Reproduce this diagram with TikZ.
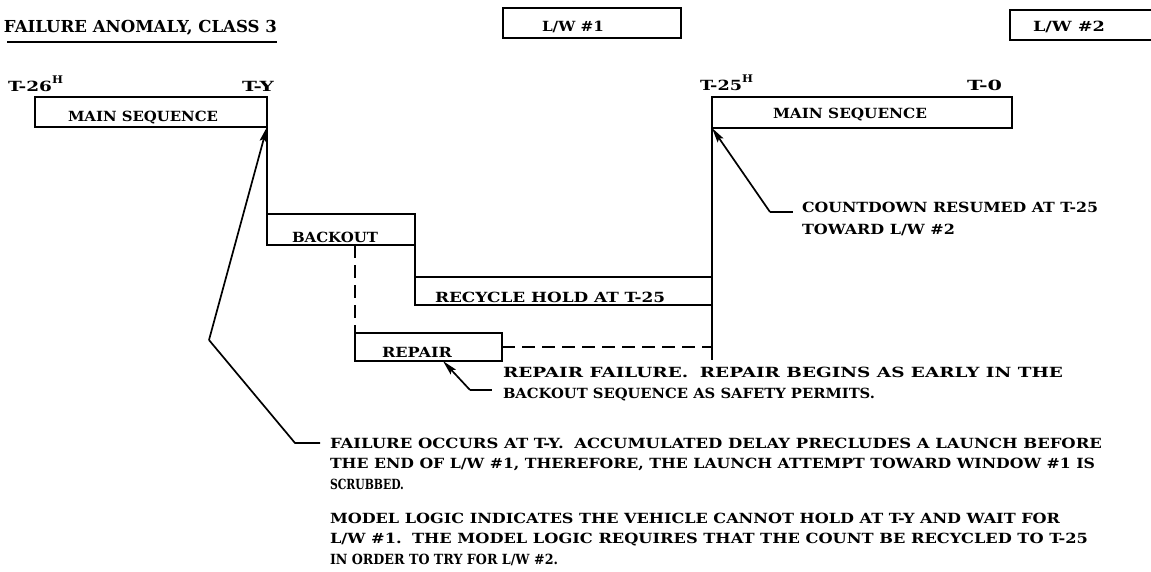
\documentclass[tikz,border=0pt]{standalone}
\usepackage{fontspec}
\usepackage{graphicx}
\setmainfont{DejaVu Serif}[FakeStretch=1.1]
\usetikzlibrary{arrows.meta}
\tikzset{
  box/.style={draw, line width=1.9pt, inner sep=0pt, outer sep=0pt, anchor=north west},
  txt/.style={inner sep=0pt, outer sep=0pt, anchor=base west, font=\fontsize{14}{16}\selectfont\bfseries},
  rule/.style={line width=1.9pt},
  lead/.style={line width=1.7pt},
  ptr/.style={line width=1.7pt, -{Stealth[length=15pt,width=7pt,inset=2.5pt]}},
  dashline/.style={line width=1.7pt, dash pattern=on 13pt off 7pt}
}
\newcommand{\fw}[2]{\resizebox{#1pt}{\height}{#2}}
\newcommand{\hsup}{\raisebox{8.5pt}{\fontsize{10.5}{10}\selectfont H}}
\begin{document}
\begin{tikzpicture}[x=1pt,y=-1pt]
\useasboundingbox (0,0) rectangle (1151,572);
\clip (0,0) rectangle (1151,572);
% title
\node[txt, font=\fontsize{16.5}{18}\selectfont\bfseries] (title) at (4,33) {\fw{273}{FAILURE ANOMALY, CLASS 3}};
\draw[line width=2.6pt] ([xshift=3pt,yshift=-9pt]title.base west) -- ([yshift=-9pt]title.base east);
% launch windows
\node[box, minimum width=178pt, minimum height=30pt] (lw1) at (503,8) {};
\node[txt] (lw1t) at (542,32) {\fw{62}{L/W \#1}};
\node[box, minimum width=170pt, minimum height=30pt] (lw2) at (1010,10) {};
\node[txt] (lw2t) at (1033,32) {\fw{72}{L/W \#2}};
% boxes
\node[box, minimum width=232pt, minimum height=30pt] (ms1) at (35,97) {};
\node[txt] (ms1t) at (68,122) {\fw{150}{MAIN SEQUENCE}};
\node[box, minimum width=300pt, minimum height=31pt] (ms2) at (712,97) {};
\node[txt] (ms2t) at (773,119) {\fw{154}{MAIN SEQUENCE}};
\node[box, minimum width=148pt, minimum height=31pt] (bo) at (267,214) {};
\node[txt] (bot) at (292,242) {\fw{86}{BACKOUT}};
\node[box, minimum width=297pt, minimum height=28pt] (rh) at (415,277) {};
\node[txt] (rht) at (435,302) {\fw{230}{RECYCLE HOLD AT T-25}};
\node[box, minimum width=147pt, minimum height=28pt] (rp) at (355,333) {};
\node[txt] (rpt) at (382,357) {\fw{70}{REPAIR}};
% time labels
\node[txt] (t26) at (8,92) {\fw{44}{T-26}\hsup};
\node[txt] (ty) at (242,92) {\fw{32}{T-Y}};
\node[txt] (t25) at (700,91) {\fw{42}{T-25}\hsup};
\node[txt] (t0) at (967,91) {\fw{35}{T-0}};
% staircase
\coordinate (vend) at (712,360);
\draw[rule] (ms1.south east) -- (bo.north west);
\draw[rule] (bo.south east) -- (rh.north west);
\draw[rule] (ms2.south west) -- (rh.north east);
\draw[rule] (rh.south east) -- (vend);
\draw[dashline] (rp.north west |- bo.south) -- (rp.north west);
\draw[dashline] (rp.east) -- (rp.east -| vend);
% annotations
\node[txt] (cd1) at (802,213) {\fw{296}{COUNTDOWN RESUMED AT T-25}};
\node[txt] (cd2) at (802,235) {\fw{153}{TOWARD L/W \#2}};
\node[txt] (rf1) at (503,377) {\fw{560}{REPAIR FAILURE.\hspace{0.7em}REPAIR BEGINS AS EARLY IN THE}};
\node[txt] (rf2) at (503,398) {\fw{372}{BACKOUT SEQUENCE AS SAFETY PERMITS.}};
\node[txt] (f1) at (330,448) {\fw{772}{FAILURE OCCURS AT T-Y.\hspace{0.7em}ACCUMULATED DELAY PRECLUDES A LAUNCH BEFORE}};
\node[txt] (f2) at (330,468) {\fw{765}{THE END OF L/W \#1, THEREFORE, THE LAUNCH ATTEMPT TOWARD WINDOW \#1 IS}};
\node[txt] (f3) at (330,489) {\fw{74}{SCRUBBED.}};
\node[txt] (m1) at (330,523) {\fw{730}{MODEL LOGIC INDICATES THE VEHICLE CANNOT HOLD AT T-Y AND WAIT FOR}};
\node[txt] (m2) at (330,543) {\fw{758}{L/W \#1.\hspace{0.7em}THE MODEL LOGIC REQUIRES THAT THE COUNT BE RECYCLED TO T-25}};
\node[txt] (m3) at (330,564) {\fw{228}{IN ORDER TO TRY FOR L/W \#2.}};
% leaders
\coordinate (c1) at (209,340);
\coordinate (c1b) at (295,443);
\draw[ptr] (c1) -- (ms1.south east);
\draw[lead] (c1) -- (c1b) -- ([xshift=-10pt,yshift=5pt]f1.base west);
\coordinate (c2) at (770,212);
\draw[ptr] (c2) -- (ms2.south west);
\draw[lead] (c2) -- ([xshift=-9pt,yshift=1pt]cd1.base west);
\coordinate (c3) at (470,390);
\draw[ptr] (c3) -- ([xshift=88pt]rp.south west);
\draw[lead] (c3) -- ([xshift=-11pt,yshift=-13pt]rf1.base west);
\end{tikzpicture}
\end{document}
